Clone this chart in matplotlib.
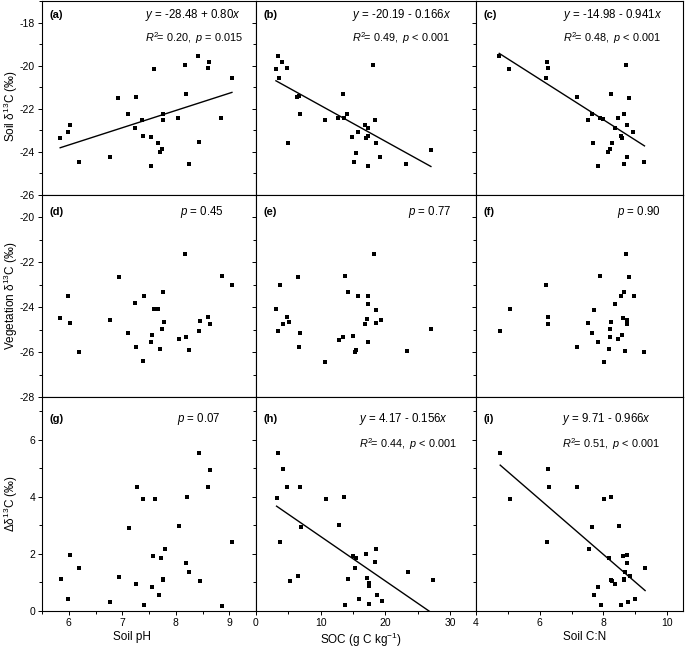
import numpy as np
import matplotlib
matplotlib.use("Agg")
import matplotlib.pyplot as plt
from matplotlib.ticker import MultipleLocator

plt.rcParams['font.family'] = ['Liberation Sans', 'DejaVu Sans']
plt.rcParams['mathtext.fontset'] = 'custom'
plt.rcParams['mathtext.rm'] = 'Liberation Sans'
plt.rcParams['mathtext.it'] = 'Liberation Sans:italic'
plt.rcParams['mathtext.bf'] = 'Liberation Sans:bold'
plt.rcParams['axes.unicode_minus'] = False

# (a) soil d13C vs soil pH
a_x = [5.84, 5.98, 6.02, 6.19, 6.77, 6.92, 7.10, 7.25, 7.24, 7.37, 7.39, 7.54, 7.59, 7.53, 7.66,
       7.70, 7.74, 7.77, 7.77, 8.05, 8.17, 8.19, 8.24, 8.42, 8.43, 8.60, 8.62, 8.85, 9.05]
a_y = [-23.36, -23.08, -22.74, -24.48, -24.22, -21.48, -22.23, -21.44, -22.88, -22.50, -23.27,
       -23.33, -20.16, -24.65, -23.59, -24.00, -23.88, -22.23, -22.54, -22.44, -19.96, -21.33,
       -24.54, -19.56, -23.56, -20.09, -19.81, -22.42, -20.59]
# (b) soil d13C vs SOC
b_x = [3.33, 4.05, 3.08, 4.72, 3.59, 4.97, 6.41, 6.67, 6.82, 10.67, 12.72, 13.44, 13.54, 14.10,
       14.82, 15.13, 15.38, 15.74, 16.87, 17.03, 17.28, 17.33, 17.33, 18.15, 18.41, 18.56, 19.23,
       23.18, 27.03]
b_y = [-19.55, -19.81, -20.16, -20.09, -20.59, -23.59, -21.47, -21.42, -22.23, -22.51, -22.44,
       -21.31, -22.44, -22.23, -23.33, -24.49, -24.03, -23.10, -22.76, -23.36, -22.88, -23.24,
       -24.66, -19.96, -22.51, -23.59, -24.24, -24.56, -23.89]
# (c) soil d13C vs soil C:N
c_x = [4.73, 5.05, 6.24, 6.25, 6.19, 7.16, 7.53, 7.63, 7.68, 7.82, 7.88, 8.00, 8.16, 8.20, 8.23,
       8.26, 8.36, 8.47, 8.54, 8.59, 8.64, 8.65, 8.72, 8.74, 8.74, 8.81, 8.94, 9.29]
c_y = [-19.55, -20.16, -19.81, -20.09, -20.59, -21.44, -22.51, -22.23, -23.59, -24.66, -22.41,
       -22.49, -24.01, -23.88, -21.31, -23.59, -22.88, -22.44, -23.28, -23.34, -22.23, -24.55,
       -19.96, -22.74, -24.22, -21.48, -23.10, -24.48]
# (d) vegetation d13C vs soil pH
d_x = [5.84, 5.98, 6.02, 6.19, 6.77, 6.93, 7.11, 7.24, 7.26, 7.38, 7.40, 7.55, 7.54, 7.60, 7.66,
       7.71, 7.75, 7.77, 7.78, 8.06, 8.18, 8.20, 8.25, 8.43, 8.46, 8.61, 8.64, 8.87, 9.06]
d_y = [-24.47, -23.48, -24.71, -25.99, -24.56, -22.66, -25.13, -23.80, -25.75, -26.41, -23.48,
       -25.25, -25.53, -24.06, -24.10, -25.87, -24.96, -23.33, -24.67, -25.42, -21.62, -25.31,
       -25.92, -25.07, -24.62, -24.43, -24.74, -22.59, -22.99]
# (e) vegetation d13C vs SOC
e_x = [3.13, 3.38, 3.64, 4.10, 4.77, 5.13, 6.46, 6.72, 6.87, 10.72, 12.77, 13.49, 13.69, 14.15,
       14.92, 15.23, 15.44, 15.79, 16.92, 17.13, 17.38, 17.38, 17.38, 18.20, 18.51, 18.62, 19.33,
       23.28, 27.12]
e_y = [-24.08, -25.07, -23.03, -24.74, -24.43, -24.64, -22.67, -25.77, -25.16, -26.42, -25.44,
       -25.32, -22.61, -23.34, -25.26, -26.00, -25.89, -23.51, -24.73, -24.51, -23.51, -23.84,
       -25.56, -21.63, -24.70, -24.13, -24.56, -25.93, -24.98]
# (f) vegetation d13C vs soil C:N
f_x = [4.75, 5.06, 6.20, 6.26, 6.26, 7.17, 7.53, 7.64, 7.69, 7.83, 7.90, 8.01, 8.17, 8.21, 8.22,
       8.25, 8.37, 8.47, 8.55, 8.59, 8.61, 8.64, 8.67, 8.72, 8.73, 8.74, 8.80, 8.95, 9.29]
f_y = [-25.07, -24.08, -23.01, -24.43, -24.76, -25.75, -24.70, -25.14, -24.12, -25.54, -22.59,
       -26.42, -25.87, -24.96, -25.31, -24.64, -23.84, -25.42, -23.49, -25.25, -24.49, -23.33,
       -25.93, -21.62, -24.56, -24.73, -22.67, -23.49, -26.00]
# (g) delta d13C vs soil pH
g_x = [5.85, 5.99, 6.02, 6.20, 6.78, 6.93, 7.12, 7.25, 7.27, 7.39, 7.41, 7.55, 7.57, 7.61, 7.68,
       7.72, 7.76, 7.77, 7.79, 8.07, 8.19, 8.21, 8.25, 8.43, 8.46, 8.61, 8.64, 8.87, 9.06]
g_y = [1.13, 0.41, 1.96, 1.51, 0.33, 1.20, 2.92, 0.94, 4.33, 3.91, 0.22, 0.85, 1.93, 3.92, 0.55,
       1.86, 1.09, 1.12, 2.16, 2.99, 1.68, 4.00, 1.37, 5.52, 1.04, 4.34, 4.95, 0.19, 2.41]
# (h) delta d13C vs SOC
h_x = [3.44, 3.18, 3.69, 4.15, 4.82, 5.18, 6.51, 6.77, 6.92, 10.77, 12.82, 13.59, 13.74, 14.26,
       14.97, 15.28, 15.49, 15.90, 17.03, 17.23, 17.49, 17.49, 17.49, 18.36, 18.62, 18.72, 19.44,
       23.44, 27.28]
h_y = [5.54, 3.95, 2.43, 4.97, 4.36, 1.05, 1.23, 4.35, 2.94, 3.93, 3.02, 4.01, 0.20, 1.12, 1.94,
       1.52, 1.87, 0.42, 1.99, 1.16, 0.97, 0.89, 0.23, 1.70, 2.18, 0.56, 0.34, 1.38, 1.10]
# (i) delta d13C vs soil C:N
i_x = [4.76, 5.07, 6.22, 6.27, 6.28, 7.18, 7.54, 7.64, 7.69, 7.84, 7.91, 8.03, 8.19, 8.23, 8.24,
       8.28, 8.38, 8.48, 8.56, 8.62, 8.64, 8.65, 8.68, 8.74, 8.74, 8.76, 8.83, 8.98, 9.31]
i_y = [5.54, 3.94, 2.41, 4.96, 4.35, 4.34, 2.16, 2.94, 0.55, 0.85, 0.20, 3.93, 1.87, 1.08, 4.00,
       1.05, 0.95, 2.99, 0.22, 1.94, 1.12, 1.09, 1.37, 1.96, 1.67, 0.33, 1.22, 0.41, 1.52]

# regression fits (intercept, slope); None = not significant
fits = [(-28.48, 0.80), (-20.19, -0.166), (-14.98, -0.941),
        None, None, None,
        None, (4.17, -0.156), (9.71, -0.966)]
eq_text = ["$y$ = -28.48 + 0.80$x$", "$y$ = -20.19 - 0.166$x$", "$y$ = -14.98 - 0.941$x$",
           None, None, None,
           None, "$y$ = 4.17 - 0.156$x$", "$y$ = 9.71 - 0.966$x$"]
stat_text = [r"$R^{2}\!\!\!\mathit{\,=\,0.20,}$ $p$ = 0.015",
             r"$R^{2}\!\!\!\mathit{\,=\,0.49,}$ $p$ < 0.001",
             r"$R^{2}\!\!\!\mathit{\,=\,0.48,}$ $p$ < 0.001",
             "$p$ = 0.45", "$p$ = 0.77", "$p$ = 0.90",
             "$p$ = 0.07",
             r"$R^{2}\!\!\!\mathit{\,=\,0.44,}$ $p$ < 0.001",
             r"$R^{2}\!\!\!\mathit{\,=\,0.51,}$ $p$ < 0.001"]
panel_labels = ["(a)", "(b)", "(c)", "(d)", "(e)", "(f)", "(g)", "(h)", "(i)"]
row_ylabels = ["Soil δ$^{13}$C (‰)", "Vegetation δ$^{13}$C (‰)", "Δδ$^{13}$C (‰)"]
col_xlabels = ["Soil pH", "SOC (g C kg$^{-1}$)", "Soil C:N"]

xs_all = [a_x, b_x, c_x, d_x, e_x, f_x, g_x, h_x, i_x]
ys_all = [a_y, b_y, c_y, d_y, e_y, f_y, g_y, h_y, i_y]

# layout in pixels
W, H = 685, 648
col_px = [(42, 256), (256, 476), (476, 683)]
row_px = [(1, 195), (195, 397), (397, 611)]
col_xlim = [(5.5, 9.5), (0, 34), (4, 10.5)]
col_xmajor = [1, 10, 2]
col_xminor = [0.5, 5, 1]
row_ylim = [(-26, -17), (-28, -19), (0, 7.5)]
# left x of annotation text (axes fraction) per panel
text_x = [0.48, 0.436, 0.42, 0.645, 0.69, 0.68, 0.63, 0.47, 0.415]
text_dy = [(14, 37), (17, 17), (22, 47)]
xlabel_x = [0.42, 0.477, 0.527]

fig = plt.figure(figsize=(W / 100, H / 100), dpi=100)

for k in range(9):
    r, c = divmod(k, 3)
    x0, x1 = col_px[c]
    y0, y1 = row_px[r]
    ax = fig.add_axes([x0 / W, 1 - y1 / H, (x1 - x0) / W, (y1 - y0) / H])
    ax.plot(xs_all[k], ys_all[k], 's', color='black', ms=3.0, mew=0, zorder=3)
    if fits[k] is not None:
        b0, b1 = fits[k]
        lx = np.array([min(xs_all[k]), max(xs_all[k])])
        ax.plot(lx, b0 + b1 * lx, color='black', lw=1.0)
    ax.set_xlim(*col_xlim[c])
    ax.set_ylim(*row_ylim[r])
    ax.xaxis.set_major_locator(MultipleLocator(col_xmajor[c]))
    ax.xaxis.set_minor_locator(MultipleLocator(col_xminor[c]))
    ax.yaxis.set_major_locator(MultipleLocator(2))
    ax.yaxis.set_minor_locator(MultipleLocator(1))
    ax.tick_params(which='both', direction='out', top=False, right=False,
                   labelsize=7.5, width=0.7, pad=2)
    ax.tick_params(which='major', length=3)
    ax.tick_params(which='minor', length=2)
    for s in ax.spines.values():
        s.set_linewidth(0.8)
    if c > 0:
        ax.tick_params(labelleft=False)
    else:
        ax.set_ylabel(row_ylabels[r], fontsize=8.5)
        ax.yaxis.set_label_coords(-22 / (x1 - x0), 0.46 if r == 0 else 0.5)
    if r < 2:
        ax.tick_params(labelbottom=False)
    else:
        ax.set_xlabel(col_xlabels[c], fontsize=8.5)
        ax.xaxis.set_label_coords(xlabel_x[c], -20 / (y1 - y0))

    ax.annotate(panel_labels[k], xy=(0, 1), xycoords='axes fraction',
                xytext=(7, -text_dy[r][0]), textcoords='offset pixels',
                ha='left', va='center', fontsize=8, fontweight='bold')
    if eq_text[k] is not None:
        ax.annotate(eq_text[k], xy=(text_x[k], 1), xycoords='axes fraction',
                    xytext=(0, -text_dy[r][0]), textcoords='offset pixels',
                    ha='left', va='center', fontsize=8.3)
        dy = text_dy[r][1]
        size = 7.8
    else:
        dy = text_dy[r][0]
        size = 8.3
    ax.annotate(stat_text[k], xy=(text_x[k], 1), xycoords='axes fraction',
                xytext=(0, -dy), textcoords='offset pixels',
                ha='left', va='center', fontsize=size)

fig.savefig("out.png", dpi=100)
